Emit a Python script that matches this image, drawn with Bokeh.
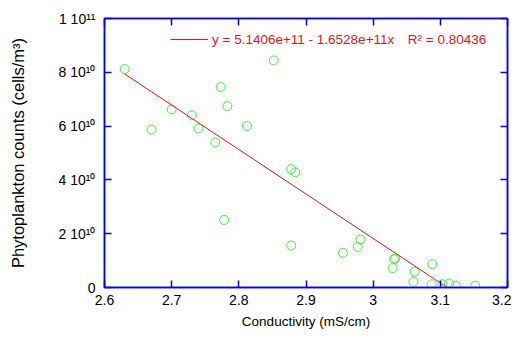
from bokeh.plotting import figure
from bokeh.models import Range1d, LinearAxis, FixedTicker, Legend, LegendItem
from bokeh.embed import file_html
from bokeh.resources import INLINE

# ---- data ----
conductivity = [2.630, 2.852, 2.773, 2.783, 2.700, 2.730, 2.670, 2.740, 2.812, 2.765,
                2.878, 2.884, 2.778, 2.878, 2.955, 2.981, 2.977, 3.031, 3.033, 3.029,
                3.062, 3.060, 3.088, 3.087, 3.103, 3.113, 3.123, 3.152]
counts_e10 = [8.12, 8.44, 7.45, 6.74, 6.62, 6.40, 5.87, 5.91, 6.00, 5.39,
              4.40, 4.28, 2.51, 1.56, 1.29, 1.78, 1.51, 1.05, 1.08, 0.72,
              0.59, 0.21, 0.87, 0.12, 0.12, 0.15, 0.06, 0.07]
counts = [c * 1e10 for c in counts_e10]

fit_intercept = 5.1406e11
fit_slope = -1.6528e11
fit_r2 = 0.80436

x_ticks = [2.6, 2.7, 2.8, 2.9, 3.0, 3.1, 3.2]
x_tick_labels = ["2.6", "2.7", "2.8", "2.9", "3", "3.1", "3.2"]
y_ticks = [0, 2e10, 4e10, 6e10, 8e10, 1e11]
y_tick_labels = ["0", "2 10\u00b9\u2070", "4 10\u00b9\u2070", "6 10\u00b9\u2070",
                 "8 10\u00b9\u2070", "1 10\u00b9\u00b9"]

x_label = "Conductivity (mS/cm)"
y_label = "Phytoplankton counts (cells/m\u00b3)"

# ---- style ----
FONT = "Liberation Sans"
BLUE = "#0000ff"
GREEN = "#3cf03c"
RED = "#e8141c"

p = figure(width=511, height=331, output_backend="svg", toolbar_location=None,
           x_range=Range1d(2.6, 3.2), y_range=Range1d(0, 1e11),
           min_border_left=104, min_border_right=4, min_border_top=18, min_border_bottom=41)
p.grid.visible = False
p.outline_line_color = BLUE
p.outline_line_width = 1.5
p.background_fill_color = "white"
p.border_fill_color = "white"


def style_axis(ax):
    ax.axis_line_color = BLUE
    ax.axis_line_width = 1.5
    ax.major_tick_line_color = BLUE
    ax.major_tick_line_width = 1.5
    ax.major_tick_in = 7
    ax.major_tick_out = 0
    ax.minor_tick_line_color = None


xax = p.xaxis[0]
style_axis(xax)
xax.ticker = FixedTicker(ticks=x_ticks)
xax.major_label_overrides = dict(zip(x_ticks, x_tick_labels))
xax.major_label_text_font = FONT
xax.major_label_text_font_size = "14px"
xax.major_label_text_color = "black"
xax.major_label_standoff = 7
xax.axis_label = x_label
xax.axis_label_text_font = FONT
xax.axis_label_text_font_size = "13.5px"
xax.axis_label_text_font_style = "normal"
xax.axis_label_text_color = "black"
xax.axis_label_standoff = 6

yax = p.yaxis[0]
style_axis(yax)
yax.ticker = FixedTicker(ticks=y_ticks)
yax.major_label_overrides = dict(zip(y_ticks, y_tick_labels))
yax.major_label_text_font = FONT
yax.major_label_text_font_size = "14px"
yax.major_label_text_color = "black"
yax.major_label_standoff = 9
yax.axis_label = y_label
yax.axis_label_text_font = FONT
yax.axis_label_text_font_size = "16.5px"
yax.axis_label_text_font_style = "normal"
yax.axis_label_text_color = "black"
yax.axis_label_standoff = 29

# mirrored axes (ticks only) on right and top
for where, ticks in (("right", y_ticks), ("above", x_ticks)):
    ax = LinearAxis(ticker=FixedTicker(ticks=ticks),
                    major_label_overrides={t: "" for t in ticks},
                    major_label_text_font_size="0px", major_label_standoff=0,
                    axis_label_standoff=0)
    style_axis(ax)
    p.add_layout(ax, where)

# scatter points
p.scatter(conductivity, counts, marker="circle", size=9, fill_color=None,
          line_color=GREEN, line_width=1)

# fit line
fx = [min(conductivity), max(conductivity)]
fy = [fit_intercept + fit_slope * x for x in fx]
fit = p.line(fx, fy, line_color=RED, line_width=1)

fit_text = (f"y = {fit_intercept:.4e} - {abs(fit_slope):.4e}x"
            f"\u2003R\u00b2 = {fit_r2:.5f}")
legend = Legend(items=[LegendItem(label=fit_text, renderers=[fit])],
                location=(66, 238), border_line_color=None, background_fill_alpha=0,
                padding=0, margin=0, glyph_width=38, label_standoff=4,
                label_text_font=FONT, label_text_font_size="13.5px",
                label_text_color=RED)
p.add_layout(legend)

open("out.html", "w").write(file_html(p, INLINE))
